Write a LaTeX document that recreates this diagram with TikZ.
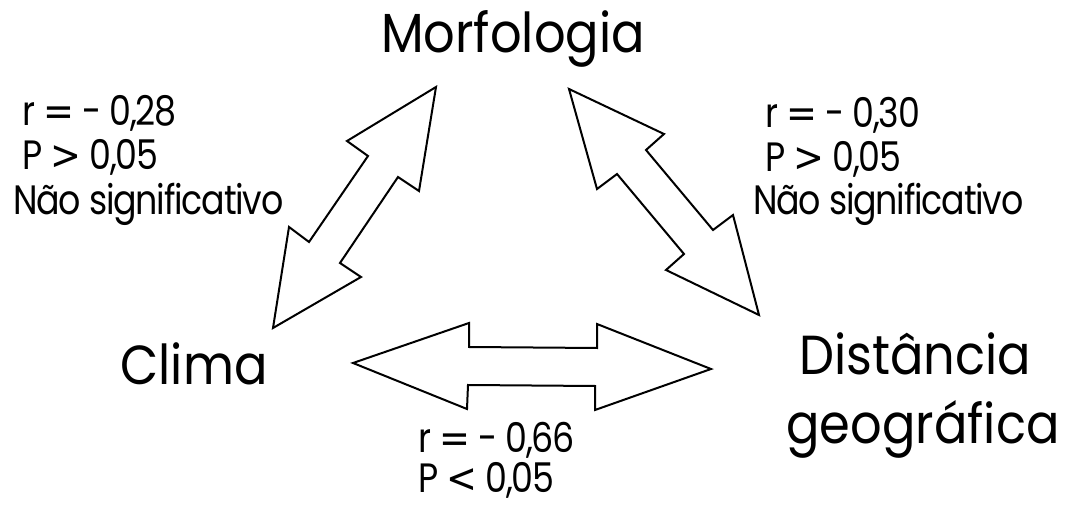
\documentclass[tikz,border=0pt]{standalone}
\usepackage{fontspec}
\setmainfont{Poppins}
\newfontfamily\namefont{Poppins}[FakeStretch=0.9]
\newfontfamily\statfont{Poppins}[FakeStretch=0.85, LetterSpace=-3]
\newfontfamily\relfont{DejaVu Sans}[FakeStretch=0.9]
\newcommand{\relsym}[1]{{\relfont #1}}
\begin{document}
\begin{tikzpicture}[x=1pt, y=-1pt,
    title/.style={font=\namefont\fontsize{55}{60}\selectfont, anchor=base, inner sep=0pt},
    stat/.style={font=\statfont\fontsize{41}{50}\selectfont, anchor=base west, inner sep=0pt},
    twoway/.style={draw=black, line width=2pt, fill=white, line join=miter}
  ]
  \useasboundingbox (0,0) rectangle (1074,510);

  % the three variables
  \node[title] (morf) at (513,53) {Morfologia};
  \node[title] (clima) at (194,385) {Clima};
  \node[title] (dist) at (915,375) {Distância};
  \node[title] (geo) at (923,443) {geográfica};

  % double arrows
  \draw[twoway] (436,87) -- (347,141) -- (368,156) -- (309,242) -- (289,227)
    -- (273,328) -- (361,277) -- (340,263) -- (398,177) -- (419,191) -- cycle;
  \draw[twoway] (569,89) -- (664,134) -- (646,150) -- (713,230) -- (733,215)
    -- (759,315) -- (666,270) -- (684,254) -- (617,174) -- (597,189) -- cycle;
  \draw[twoway] (353,363) -- (469,323) -- (469,347) -- (597,348) -- (597,324)
    -- (711,369) -- (595,410) -- (595,386) -- (468,385) -- (467,409) -- cycle;

  % correlations
  \node[stat] (rA) at (22,126) {r \relsym{=} - 0,28};
  \node[stat] (pA) at (22,170) {P \relsym{>} 0,05};
  \node[stat] (sA) at (13,215) {Não significativo};

  \node[stat] (rB) at (765,128) {r \relsym{=} - 0,30};
  \node[stat] (pB) at (765,172) {P \relsym{>} 0,05};
  \node[stat] (sB) at (753,215) {Não significativo};

  \node[stat] (rC) at (418,453) {r \relsym{=} - 0,66};
  \node[stat] (pC) at (418,493) {P \relsym{<} 0,05};
\end{tikzpicture}
\end{document}
